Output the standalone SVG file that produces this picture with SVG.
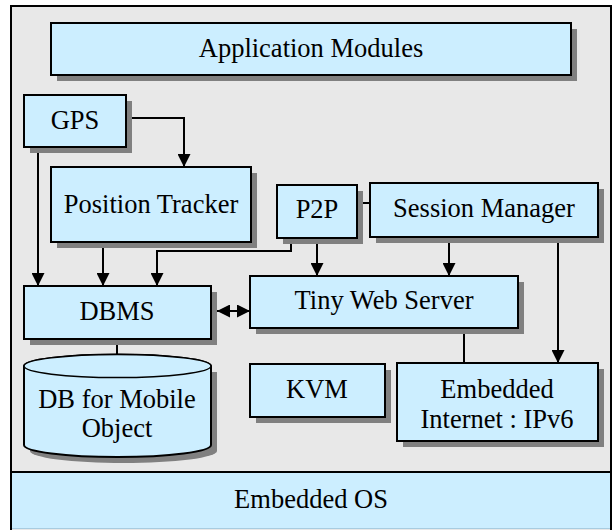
<svg xmlns="http://www.w3.org/2000/svg" width="613" height="530" viewBox="0 0 613 530">
<defs>
<style>
.box{fill:#cceeff;stroke:#000;stroke-width:2}
.sh{fill:#808080}
.t{text-anchor:middle;fill:#000}
.c{fill:none;stroke:#000;stroke-width:2}
</style>
<marker id="ah" markerUnits="userSpaceOnUse" markerWidth="13" markerHeight="13" refX="13" refY="6.5" orient="auto-start-reverse" viewBox="0 0 13 13">
<path d="M0,0 L13,6.5 L0,13 z" fill="#000"/>
</marker>
</defs>
<rect width="613" height="530" fill="#fff"/>
<rect id="frame" x="11" y="6" width="600" height="540" fill="#e8e8e8" stroke="#000" stroke-width="2"/>
<g id="connectors">
<path class="c" d="M132,118 H184 V167" marker-end="url(#ah)"/>
<path class="c" d="M38,147 V286" marker-end="url(#ah)"/>
<path class="c" d="M103,242 V286" marker-end="url(#ah)"/>
<path class="c" d="M291,238 V251 H157 V286" marker-end="url(#ah)"/>
<path class="c" d="M317,238 V276" marker-end="url(#ah)"/>
<path class="c" d="M449,237 V276" marker-end="url(#ah)"/>
<path class="c" d="M558,237 V363" marker-end="url(#ah)"/>
<path class="c" d="M357,203 H370"/>
<path class="c" d="M464,328 V363"/>
<path class="c" d="M217,311 H250" marker-start="url(#ah)" marker-end="url(#ah)"/>
<path class="c" d="M117,339 V355"/>
</g>
<g font-family="Liberation Serif, Times New Roman, serif" font-size="26.5">
<g id="os">
<rect x="12" y="472" width="598" height="56" fill="#cceeff"/>
<path d="M12,528.5 H610" stroke="#a8cce0" stroke-width="1"/>
<path d="M11,472 H611" stroke="#000" stroke-width="2"/>
<text class="t" x="311" y="508">Embedded OS</text>
</g>
<g id="app">
<rect class="sh" x="57" y="29" width="520" height="52"/>
<rect class="box" x="51" y="23" width="520" height="52"/>
<text class="t" x="311" y="57">Application Modules</text>
</g>
<g id="gps">
<rect class="sh" x="30" y="101" width="102" height="52"/>
<rect class="box" x="24" y="95" width="102" height="52"/>
<text class="t" x="75" y="129">GPS</text>
</g>
<g id="tracker">
<rect class="sh" x="57" y="173" width="200" height="75"/>
<rect class="box" x="51" y="167" width="200" height="75"/>
<text class="t" x="151" y="213">Position Tracker</text>
</g>
<g id="p2p">
<rect class="sh" x="283" y="191" width="80" height="53"/>
<rect class="box" x="277" y="185" width="80" height="53"/>
<text class="t" x="317" y="218">P2P</text>
</g>
<g id="session">
<rect class="sh" x="376" y="189" width="228" height="54"/>
<rect class="box" x="370" y="183" width="228" height="54"/>
<text class="t" x="484" y="217">Session Manager</text>
</g>
<g id="dbms">
<rect class="sh" x="30" y="292" width="187" height="53"/>
<rect class="box" x="24" y="286" width="187" height="53"/>
<text class="t" x="117" y="320">DBMS</text>
</g>
<g id="tws">
<rect class="sh" x="256" y="282" width="268" height="52"/>
<rect class="box" x="250" y="276" width="268" height="52"/>
<text class="t" x="384" y="309">Tiny Web Server</text>
</g>
<g id="kvm">
<rect class="sh" x="256" y="370" width="135" height="53"/>
<rect class="box" x="250" y="364" width="135" height="53"/>
<text class="t" x="317" y="398">KVM</text>
</g>
<g id="ipv6">
<rect class="sh" x="403" y="369" width="201" height="78"/>
<rect class="box" x="397" y="363" width="201" height="78"/>
<text class="t" x="497" y="398">Embedded</text>
<text class="t" x="497" y="428">Internet : IPv6</text>
</g>
<g id="db">
<path class="sh" d="M30,372 V451 A93.5,12 0 0 0 217,451 V372 Z"/>
<path class="box" d="M24,366 V445 A93.5,12 0 0 0 211,445 V366 A93.5,11.5 0 0 0 24,366 Z"/>
<ellipse cx="117.5" cy="366" rx="93.5" ry="11.5" fill="#cceeff" stroke="#000" stroke-width="1.5"/>
<text class="t" x="117" y="408">DB for Mobile</text>
<text class="t" x="117" y="437">Object</text>
</g>
</g>
</svg>
